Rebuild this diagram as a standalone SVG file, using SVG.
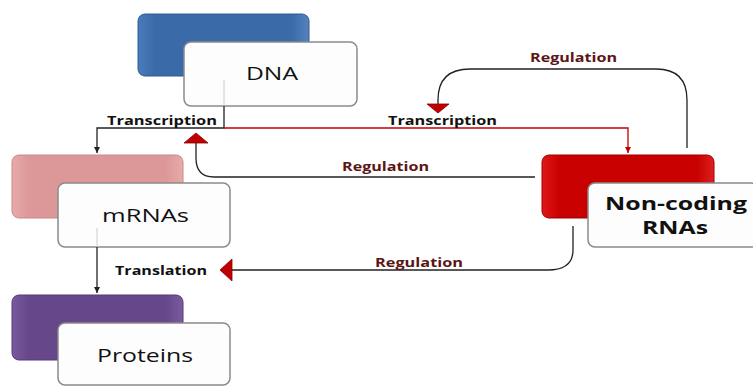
<svg xmlns="http://www.w3.org/2000/svg" width="753" height="386" viewBox="0 0 753 386">
<style>
.lbl{font-family:"Open Sans","Liberation Sans",sans-serif;font-weight:bold;font-size:12.5px;fill:#111}
.reg{fill:#5c1515}
.box{font-family:"Open Sans","Liberation Sans",sans-serif;font-size:18.5px;fill:#111}
.nc{font-size:17px;font-weight:bold}
.front{fill:#fdfdfd;stroke:#8a8a8a;stroke-width:1.5}
.blk{fill:none;stroke:#222;stroke-width:1.3}
.red{fill:none;stroke:#c00000;stroke-width:1.3}
</style>
<defs>
<linearGradient id="gb" x1="0" y1="0" x2="1" y2="0"><stop offset="0" stop-color="#4a7cbd"/><stop offset="0.1" stop-color="#3a6aa8"/><stop offset="0.9" stop-color="#3a6aa8"/><stop offset="1" stop-color="#5583c0"/></linearGradient>
<linearGradient id="gp" x1="0" y1="0" x2="1" y2="0"><stop offset="0" stop-color="#e9aaaa"/><stop offset="0.1" stop-color="#dc9898"/><stop offset="0.9" stop-color="#dc9898"/><stop offset="1" stop-color="#e8aaaa"/></linearGradient>
<linearGradient id="gv" x1="0" y1="0" x2="1" y2="0"><stop offset="0" stop-color="#7a5a9e"/><stop offset="0.1" stop-color="#66478a"/><stop offset="0.9" stop-color="#66478a"/><stop offset="1" stop-color="#7a5c9e"/></linearGradient>
<linearGradient id="gr" x1="0" y1="0" x2="1" y2="0"><stop offset="0" stop-color="#e01818"/><stop offset="0.1" stop-color="#c80000"/><stop offset="0.9" stop-color="#c80000"/><stop offset="1" stop-color="#dd2020"/></linearGradient>
<linearGradient id="gw" x1="0" y1="0" x2="0" y2="1"><stop offset="0" stop-color="#ffffff"/><stop offset="1" stop-color="#f2f2f2"/></linearGradient>
<marker id="ab" markerWidth="8" markerHeight="8" refX="6" refY="4" orient="auto" markerUnits="userSpaceOnUse"><path d="M0,1 L6,4 L0,7 z" fill="#222"/></marker>
<marker id="ar" markerWidth="8" markerHeight="8" refX="6" refY="4" orient="auto" markerUnits="userSpaceOnUse"><path d="M0,1 L6,4 L0,7 z" fill="#c00000"/></marker>
</defs>

<g id="dna">
<rect x="138" y="14" width="171" height="62" rx="7" fill="url(#gb)" stroke="#2f5a90" stroke-width="1"/>
<rect class="front" x="184" y="42" width="173" height="64" rx="7" fill="url(#gw)"/>
<line x1="224" y1="80" x2="224" y2="106" stroke="#ccc" stroke-width="1"/>
<text class="box" x="246" y="80" textLength="52" lengthAdjust="spacingAndGlyphs">DNA</text>
</g>

<g id="mrna">
<rect x="12" y="155" width="171" height="63" rx="7" fill="url(#gp)" stroke="#c98888" stroke-width="1"/>
<rect class="front" x="58" y="183" width="172" height="64" rx="7" fill="url(#gw)"/>
<line x1="97" y1="228" x2="97" y2="247" stroke="#ccc" stroke-width="1"/>
<text class="box" x="102" y="222" textLength="87" lengthAdjust="spacingAndGlyphs">mRNAs</text>
</g>

<g id="proteins">
<rect x="12" y="295" width="171" height="65" rx="7" fill="url(#gv)" stroke="#553a78" stroke-width="1"/>
<rect class="front" x="58" y="323" width="172" height="62" rx="7" fill="url(#gw)"/>
<text class="box" x="97" y="362" textLength="96" lengthAdjust="spacingAndGlyphs">Proteins</text>
</g>

<g id="ncrna">
<rect x="542" y="155" width="172" height="63" rx="7" fill="url(#gr)" stroke="#a00000" stroke-width="1"/>
<rect class="front" x="588" y="183" width="170" height="64" rx="7" fill="url(#gw)"/>
<text class="box nc" x="605" y="210" textLength="142" lengthAdjust="spacingAndGlyphs">Non-coding</text>
<text class="box nc" x="642" y="234" textLength="66" lengthAdjust="spacingAndGlyphs">RNAs</text>
</g>

<g id="connectors">
<path class="blk" d="M224,106 V128 H97 V153" marker-end="url(#ab)"/>
<path class="red" d="M224,128 H628 V153" marker-end="url(#ar)"/>
<path class="blk" d="M97,247 V293" marker-end="url(#ab)"/>
<path class="blk" d="M687,148 V100 Q687,69 656,69 H470 Q438,69 438,100 V104"/>
<path d="M427,104 L449,104 L438,113 z" fill="#c00000" stroke="#8a0000" stroke-width="0.8"/>
<path class="blk" d="M535,177 H214 Q196,177 196,158 V143"/>
<path d="M184,143 L208,143 L196,133 z" fill="#c00000" stroke="#8a0000" stroke-width="0.8"/>
<path class="blk" d="M573,226 V250 Q573,270 548,270 H232"/>
<path d="M232,259 L232,281 L220,270 z" fill="#c00000" stroke="#8a0000" stroke-width="0.8"/>
<text class="lbl" x="107" y="125" textLength="110" lengthAdjust="spacingAndGlyphs">Transcription</text>
<text class="lbl" x="388" y="125" textLength="109" lengthAdjust="spacingAndGlyphs">Transcription</text>
<text class="lbl" x="115" y="275" textLength="92" lengthAdjust="spacingAndGlyphs">Translation</text>
<text class="lbl reg" x="530" y="62" textLength="87" lengthAdjust="spacingAndGlyphs">Regulation</text>
<text class="lbl reg" x="342" y="171" textLength="87" lengthAdjust="spacingAndGlyphs">Regulation</text>
<text class="lbl reg" x="375" y="267" textLength="88" lengthAdjust="spacingAndGlyphs">Regulation</text>
</g>
</svg>
